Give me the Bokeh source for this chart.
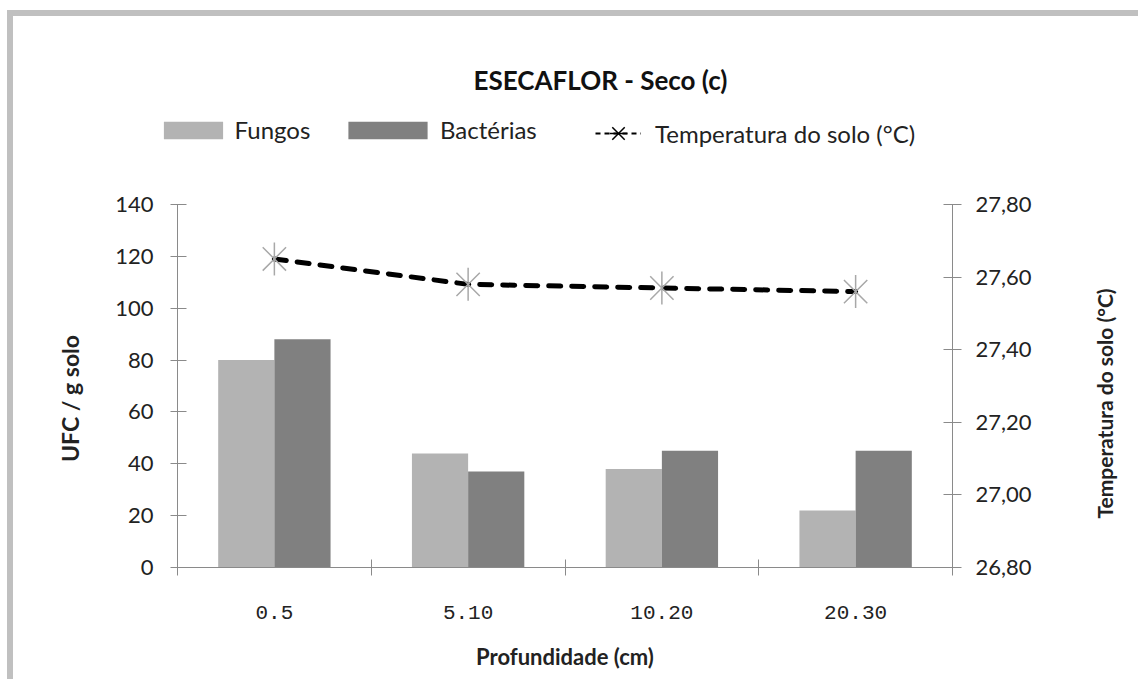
import math
from bokeh.plotting import figure
from bokeh.layouts import column, row
from bokeh.models import (Range1d, LinearAxis, FixedTicker, CustomJSTickFormatter,
                          Legend, LegendItem, Label, Div)
from bokeh.embed import file_html
from bokeh.resources import INLINE

# ---- data ----
categories = ["0.5", "5.10", "10.20", "20.30"]
fungos = [80, 44, 38, 22]
bacterias = [88, 37, 45, 45]
temperatura = [27.65, 27.58, 27.57, 27.56]
left_ticks = [0, 20, 40, 60, 80, 100, 120, 140]
right_ticks = [26.8, 27.0, 27.2, 27.4, 27.6, 27.8]
series_names = ["Fungos", "Bactérias", "Temperatura do solo (°C)"]
title_text = "ESECAFLOR - Seco (c)"
y_title_left = "UFC / g solo"
y_title_right = "Temperatura do solo (°C)"
x_title = "Profundidade (cm)"

FONT = "Lato"
TXT = "#222222"
AX = "#8a8a8a"
C_F = "#b3b3b3"
C_B = "#808080"
GRAY_BORDER = "#c0c0c0"
NAN = float("nan")

# page geometry
X0, Y0 = 13, 16            # where the figures start on the page
W = 1125
HT, HM = 140, 523          # heights of header figure and main row
XL, XR = 100, 1070         # page x where the main figure starts / ends
FL, FR, FT, FB = 177, 952, 204, 567   # plot frame edges on the page
YBOT = Y0 + HT + HM

def blank_fig(width, height):
    f = figure(width=width, height=height, output_backend="svg", toolbar_location=None,
               x_axis_type=None, y_axis_type=None, title=None,
               x_range=Range1d(0, width), y_range=Range1d(0, height), min_border=0)
    f.outline_line_color = None
    f.grid.visible = False
    f.frame_align = False
    return f

# ---------------- header figure: title + legend ----------------
top = blank_fig(W, HT)

# legend-only glyphs (one NaN row so that the legend can draw them)
lf = top.vbar(x=[NAN], top=[NAN], width=1, fill_color=C_F, line_color=None)
lb = top.vbar(x=[NAN], top=[NAN], width=1, fill_color=C_B, line_color=None)
ll = top.line(x=[NAN], y=[NAN], line_color="black", line_width=2, line_dash="5 4")
lx = top.scatter(x=[NAN], y=[NAN], marker="x", size=20, line_color="black", line_width=1.5)
ld = top.scatter(x=[NAN], y=[NAN], marker="dash", size=20, angle=math.pi / 2,
                 line_color="black", line_width=1.5)

def mk_legend(label, rends, px, py_bottom, gw, gh, standoff):
    lg = Legend(items=[LegendItem(label=label, renderers=rends)],
                location=(px - X0, (Y0 + HT) - py_bottom), orientation="horizontal",
                border_line_color=None, background_fill_alpha=0,
                padding=0, margin=0, spacing=0, label_standoff=standoff,
                glyph_width=gw, glyph_height=gh, label_height=gh,
                label_text_font=FONT, label_text_font_size="24px", label_text_color=TXT,
                label_text_baseline="middle")
    top.add_layout(lg)

mk_legend(series_names[0], [lf], 155.6, 144, 74, 22, 5)
mk_legend(series_names[1], [lb], 338, 144, 99, 22, 3)
mk_legend(series_names[2], [ll, lx, ld], 595, 155, 46, 44, 14)

top.add_layout(Label(x=600 - X0, y=(Y0 + HT) - 79, text=title_text,
                     text_align="center", text_baseline="middle",
                     text_font=FONT, text_font_style="bold",
                     text_font_size="26px", text_color="#111111"))

# ---------------- side figures holding the vertical axis titles ----------------
left_side = blank_fig(XL - X0, HM)
left_side.add_layout(Label(x=69 - X0, y=YBOT - 398, text=y_title_left, angle=math.pi / 2,
                           text_align="center", text_baseline="middle",
                           text_font=FONT, text_font_style="bold",
                           text_font_size="23px", text_color=TXT))
right_side = blank_fig(X0 + W - XR, HM)
right_side.add_layout(Label(x=1104 - XR, y=YBOT - 403, text=y_title_right, angle=math.pi / 2,
                            text_align="center", text_baseline="middle",
                            text_font=FONT, text_font_style="bold",
                            text_font_size="21px", text_color=TXT))

# ---------------- main figure ----------------
p = figure(width=XR - XL, height=HM, output_backend="svg", toolbar_location=None,
           title=None,
           x_range=Range1d(0, len(categories)), y_range=Range1d(0, 140),
           min_border_left=FL - XL, min_border_right=XR - FR,
           min_border_top=FT - (Y0 + HT), min_border_bottom=YBOT - FB)
p.frame_align = False
p.extra_y_ranges = {"temp": Range1d(26.8, 27.8)}
p.outline_line_color = None

centers = [i + 0.5 for i in range(len(categories))]
bw = 0.29
p.vbar(x=[c - bw / 2 for c in centers], top=fungos, bottom=0, width=bw,
       fill_color=C_F, line_color=None)
p.vbar(x=[c + bw / 2 for c in centers], top=bacterias, bottom=0, width=bw,
       fill_color=C_B, line_color=None)
p.line(x=centers, y=temperatura, y_range_name="temp", line_color="black",
       line_width=5, line_dash="12 11", line_cap="round")
p.scatter(x=centers, y=temperatura, y_range_name="temp", marker="x", size=33,
          line_color="#a8a8a8", line_width=1.5)
p.scatter(x=centers, y=temperatura, y_range_name="temp", marker="dash", size=33,
          angle=math.pi / 2, line_color="#a8a8a8", line_width=1.5)

p.xgrid.visible = False
p.ygrid.ticker = FixedTicker(ticks=[140])
p.ygrid.grid_line_color = "#7a7a7a"
p.ygrid.grid_line_width = 2

xa = p.xaxis[0]
xa.ticker = FixedTicker(ticks=centers, minor_ticks=list(range(len(categories) + 1)))
xa.formatter = CustomJSTickFormatter(args=dict(labels=categories),
                                     code="return labels[Math.floor(tick)]")
xa.major_tick_in = 0
xa.major_tick_out = 0
xa.minor_tick_in = 8
xa.minor_tick_out = 8
xa.minor_tick_line_color = AX
xa.axis_line_color = AX
xa.major_label_text_font = "Liberation Mono"
xa.major_label_text_font_size = "21px"
xa.major_label_text_color = TXT
xa.major_label_standoff = 30
xa.axis_label = x_title
xa.axis_label_text_font = FONT
xa.axis_label_text_font_style = "bold"
xa.axis_label_text_font_size = "22px"
xa.axis_label_text_color = TXT
xa.axis_label_standoff = 21

ya = p.yaxis[0]
ya.ticker = FixedTicker(ticks=left_ticks)
ya.minor_tick_line_color = None
ya.major_tick_in = 9
ya.major_tick_out = 7
ya.major_tick_line_color = AX
ya.axis_line_color = AX
ya.major_label_text_font = FONT
ya.major_label_text_font_size = "22px"
ya.major_label_text_color = TXT
ya.major_label_standoff = 17

ra = LinearAxis(y_range_name="temp", ticker=FixedTicker(ticks=right_ticks),
                formatter=CustomJSTickFormatter(code="return tick.toFixed(2).replace('.', ',')"))
ra.minor_tick_line_color = None
ra.major_tick_in = 9
ra.major_tick_out = 9
ra.major_tick_line_color = AX
ra.axis_line_color = AX
ra.major_label_text_font = FONT
ra.major_label_text_font_size = "22px"
ra.major_label_text_color = TXT
ra.major_label_standoff = 14
p.add_layout(ra, "right")

# ---------------- gray frame of the picture ----------------
top_bar = Div(text="", width=W + X0 - 7, height=6, margin=0,
              styles={"background-color": GRAY_BORDER})
left_bar = Div(text="", width=6, height=HT + HM, margin=0,
               styles={"background-color": GRAY_BORDER})

main_row = row(left_side, p, right_side, spacing=0, margin=0)
layout = column(top_bar,
                row(left_bar, column(top, main_row, spacing=0, margin=0), spacing=0, margin=0),
                spacing=0, margin=(10, 0, 0, 7))

open("out.html", "w").write(file_html(layout, INLINE))
